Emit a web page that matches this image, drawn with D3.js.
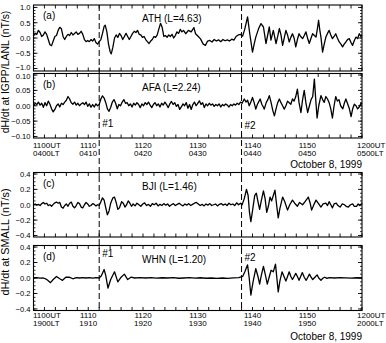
<!DOCTYPE html>
<html>
<head>
<meta charset="utf-8">
<script src="https://cdn.jsdelivr.net/npm/d3@7"></script>
<style>
  body { margin: 0; background: #fff; }
  text { font-family: "Liberation Sans", Arial, sans-serif; fill: #000; }
</style>
</head>
<body>
<svg id="chart" width="386" height="343"></svg>
<script>
// minutes after 1100UT, dH/dt in nT/s
const ath = [
  [0,0.08],[0.3,0.15],[0.6,0.12],[0.9,0.25],[1.2,0.18],[1.5,0.05],[1.8,0.1],[2.1,0.2],[2.4,0.12],[2.7,-0.05],
  [3.0,-0.22],[3.3,-0.25],[3.6,-0.1],[3.9,0.05],[4.2,0.08],[4.5,0.25],[4.8,0.35],[5.1,0.3],[5.4,0.05],[5.7,-0.05],
  [6.0,0.05],[6.3,0.12],[6.6,0.08],[6.9,0.18],[7.2,0.1],[7.5,0.15],[7.8,0.2],[8.1,0.12],[8.4,0.15],[8.7,0.22],
  [9.0,0.12],[9.3,-0.05],[9.6,-0.12],[9.9,-0.08],[10.2,-0.12],[10.5,-0.05],[10.8,-0.1],[11.1,-0.02],[11.4,-0.15],[11.7,-0.2],
  [12.0,-0.12],[12.3,-0.05],[12.6,0.15],[12.9,0.38],[13.1,0.42],[13.4,0.2],[13.7,-0.2],[14.0,-0.45],[14.2,-0.52],[14.5,-0.3],
  [14.8,0.0],[15.1,0.1],[15.4,0.02],[15.7,0.15],[16.0,0.08],[16.3,-0.05],[16.6,0.05],[16.9,0.15],[17.2,0.05],[17.5,-0.05],
  [17.8,0.05],[18.1,0.15],[18.4,0.22],[18.7,0.18],[19.0,0.25],[19.3,0.12],[19.6,0.1],[19.9,0.02],[20.2,0.05],[20.5,-0.05],
  [20.8,-0.12],[21.1,-0.18],[21.4,-0.1],[21.7,-0.05],[22.0,0.05],[22.3,0.02],[22.6,0.1],[22.9,0.3],[23.2,0.48],[23.5,0.35],
  [23.8,0.05],[24.1,0.08],[24.4,0.02],[24.7,0.1],[25.0,0.05],[25.3,0.12],[25.6,0.0],[25.9,0.08],[26.2,0.2],[26.5,0.15],
  [26.8,0.28],[27.1,0.2],[27.4,0.25],[27.8,0.14],[28.3,0.25],[28.8,0.2],[29.3,0.34],[29.6,0.14],[30.1,0.05],[30.5,-0.03],
  [31.0,-0.2],[31.4,-0.24],[31.8,-0.1],[32.2,-0.08],[32.6,-0.13],[33.0,-0.05],[33.4,-0.1],[33.8,-0.06],[34.2,-0.12],[34.6,-0.05],
  [35.0,-0.09],[35.4,-0.06],[35.8,-0.1],[36.2,-0.04],[36.6,-0.07],[37.0,0.05],[37.4,0.1],[37.8,0.12],[38.2,0.06],[38.6,0.3],
  [39.1,0.69],[39.5,0.14],[40.0,-0.46],[40.3,-0.2],[40.6,0.03],[41.1,0.3],[41.55,0.47],[42.0,0.36],[42.46,-0.18],[43.07,0.36],
  [43.37,-0.07],[43.8,0.25],[44.3,-0.18],[44.6,0.05],[44.9,0.31],[45.2,0.1],[45.5,-0.24],[46.1,0.25],[46.4,0.1],[46.7,-0.13],
  [47.0,0.02],[47.3,0.14],[47.6,0.0],[47.9,-0.29],[48.2,-0.05],[48.5,0.14],[48.8,0.05],[49.15,-0.02],[49.45,0.08],[49.76,0.2],
  [50.05,0.0],[50.37,-0.18],[50.7,0.0],[50.98,0.14],[51.3,0.08],[51.6,0.03],[51.85,0.3],[52.07,0.58],[52.3,0.25],[52.5,0.03],
  [52.8,-0.46],[53.1,-0.2],[53.4,0.03],[53.7,0.15],[54.0,0.25],[54.3,0.1],[54.6,-0.02],[54.9,0.05],[55.2,0.14],[55.5,0.0],
  [55.85,-0.13],[56.15,-0.2],[56.45,-0.29],[56.75,-0.2],[57.06,-0.13],[57.35,-0.05],[57.67,-0.02],[58.0,-0.15],[58.28,-0.24],[58.6,-0.08],
  [58.9,0.03],[59.2,-0.02],[59.5,0.14],[59.8,0.05],[60,0.09]
];
const afa = [
  [0,0.0],[0.3,0.008],[0.6,0.004],[0.9,0.012],[1.2,0.002],[1.5,0.008],[1.8,-0.005],[2.1,0.01],[2.4,0.0],[2.7,0.015],
  [3.0,0.005],[3.3,-0.01],[3.6,-0.02],[3.9,-0.012],[4.2,0.0],[4.5,0.006],[4.8,-0.004],[5.1,0.008],[5.4,0.004],[5.7,0.012],
  [6.0,0.018],[6.3,0.03],[6.6,0.022],[6.9,0.01],[7.2,0.005],[7.5,0.012],[7.8,0.002],[8.1,0.008],[8.4,0.0],[8.7,0.006],
  [9.0,0.01],[9.3,0.004],[9.6,0.012],[9.9,-0.002],[10.2,0.006],[10.5,-0.005],[10.8,0.004],[11.1,-0.004],[11.4,0.006],[11.7,0.0],
  [12.0,0.004],[12.3,0.022],[12.6,0.032],[12.9,0.025],[13.2,0.01],[13.5,-0.01],[13.8,-0.018],[14.1,-0.005],[14.4,0.012],[14.7,0.02],
  [15.0,0.008],[15.3,-0.01],[15.6,0.004],[15.9,0.0],[16.2,0.012],[16.5,0.02],[16.8,0.008],[17.1,0.01],[17.4,0.0],[17.7,0.006],
  [18.0,-0.004],[18.3,0.008],[18.6,0.002],[18.9,0.01],[19.2,0.004],[19.5,-0.006],[19.8,0.006],[20.1,0.0],[20.4,0.01],[20.7,0.004],
  [21.0,0.012],[21.3,0.002],[21.6,-0.006],[21.9,0.004],[22.2,0.01],[22.5,0.0],[22.8,0.006],[23.1,-0.004],[23.4,0.008],[23.7,0.002],
  [24.0,0.012],[24.3,0.004],[24.6,-0.006],[24.9,0.006],[25.2,0.014],[25.5,0.004],[25.8,0.01],[26.1,-0.002],[26.4,0.004],[26.7,-0.012],
  [27.0,-0.004],[27.3,0.006],[27.6,0.0],[27.9,0.01],[28.2,-0.008],[28.5,0.004],[28.8,-0.012],[29.1,0.004],[29.4,0.012],[29.7,0.0],
  [30.0,0.008],[30.3,0.016],[30.6,0.004],[30.9,0.01],[31.2,-0.006],[31.5,0.006],[31.8,0.0],[32.1,0.008],[32.4,0.002],[32.7,0.006],
  [33.0,-0.002],[33.3,0.004],[33.6,0.0],[33.9,0.006],[34.2,-0.004],[34.5,0.004],[34.8,0.0],[35.1,0.006],[35.4,0.002],[35.7,-0.004],
  [36.0,0.004],[36.3,0.0],[36.6,0.006],[36.9,0.002],[37.2,0.008],[37.5,0.004],[37.8,0.012],[38.1,0.008],[38.5,0.022],[38.8,0.012],
  [39.1,0.018],[39.4,0.0],[39.7,0.012],[40.0,0.027],[40.3,0.01],[40.6,-0.011],[40.9,0.005],[41.2,0.015],[41.4,0.022],[41.7,0.005],
  [42.0,-0.005],[42.15,-0.011],[42.5,0.01],[42.8,0.02],[43.07,0.033],[43.4,0.01],[43.7,-0.015],[44.0,-0.033],[44.3,-0.01],[44.6,0.01],
  [44.9,0.022],[45.2,0.01],[45.5,0.0],[45.8,-0.011],[46.1,0.0],[46.4,0.015],[46.7,0.01],[47.0,0.005],[47.3,0.022],[47.6,0.015],
  [47.9,0.03],[48.2,0.054],[48.5,0.01],[48.85,-0.022],[49.15,0.02],[49.45,0.05],[49.75,0.01],[50.07,-0.022],[50.4,0.0],[50.7,0.02],
  [51.0,0.03],[51.3,0.087],[51.55,0.02],[51.8,-0.04],[52.1,0.0],[52.5,0.033],[52.8,0.02],[53.1,0.011],[53.4,0.03],[53.7,0.022],
  [54.0,0.01],[54.3,-0.01],[54.6,-0.04],[54.9,0.0],[55.2,0.03],[55.5,0.015],[55.8,0.02],[56.1,0.0],[56.5,-0.01],[56.8,0.01],
  [57.06,0.022],[57.4,0.005],[57.7,-0.01],[58.0,-0.035],[58.3,-0.01],[58.6,0.005],[58.9,0.0],[59.2,-0.01],[59.5,-0.004],[59.8,0.008],
  [60,0.005]
];
const bji = [
  [0,0.0],[0.3,0.01],[0.6,-0.005],[0.9,0.005],[1.2,-0.01],[1.5,0.015],[1.8,0.03],[2.1,0.01],[2.4,0.02],[2.7,-0.01],
  [3.0,0.0],[3.3,-0.02],[3.6,0.005],[3.9,0.025],[4.2,0.035],[4.5,0.02],[4.8,0.03],[5.1,-0.03],[5.4,-0.045],[5.7,-0.01],
  [6.0,0.01],[6.3,-0.02],[6.6,0.02],[6.9,0.035],[7.2,-0.02],[7.5,-0.04],[7.8,-0.01],[8.1,0.03],[8.4,0.015],[8.7,-0.03],
  [9.0,-0.04],[9.3,0.0],[9.6,0.03],[9.9,0.01],[10.2,-0.02],[10.5,-0.01],[10.8,0.015],[11.1,0.005],[11.4,-0.015],[11.7,0.0],
  [12.0,-0.01],[12.3,0.04],[12.6,0.09],[12.9,0.06],[13.2,-0.04],[13.5,-0.13],[13.8,-0.08],[14.1,0.02],[14.5,0.09],[14.8,0.1],
  [15.1,0.03],[15.4,-0.06],[15.7,-0.04],[16.1,0.04],[16.4,0.02],[16.7,-0.03],[17.0,0.0],[17.3,0.05],[17.6,0.02],[17.9,-0.02],
  [18.2,0.01],[18.55,-0.015],[18.9,0.02],[19.25,0.0],[19.6,-0.02],[19.95,0.01],[20.3,0.025],[20.65,-0.01],[21.0,0.005],[21.35,-0.02],
  [21.7,0.015],[22.05,0.0],[22.4,0.02],[22.75,-0.015],[23.1,0.005],[23.45,-0.01],[23.8,0.015],[24.15,-0.005],[24.5,0.01],[24.85,-0.02],
  [25.2,0.0],[25.55,0.015],[25.9,-0.01],[26.25,0.005],[26.6,0.02],[26.95,0.0],[27.3,-0.015],[27.65,0.01],[28.0,-0.005],[28.35,0.015],
  [28.7,-0.01],[29.05,0.005],[29.4,0.02],[29.75,0.03],[30.1,0.01],[30.45,-0.01],[30.8,0.005],[31.15,-0.015],[31.5,0.01],[31.85,-0.005],
  [32.2,0.015],[32.55,-0.01],[32.9,0.0],[33.25,0.01],[33.6,-0.015],[33.95,0.005],[34.3,0.015],[34.65,-0.005],[35.0,0.01],[35.35,-0.01],
  [35.7,0.02],[36.05,0.0],[36.4,0.01],[36.75,-0.01],[37.1,0.025],[37.45,0.0],[37.8,0.02],[38.1,0.0],[38.5,0.08],[38.9,0.2],
  [39.2,0.12],[39.45,-0.1],[39.7,-0.22],[40.0,-0.08],[40.4,0.12],[40.7,0.15],[41.0,0.04],[41.3,-0.06],[41.6,0.05],[42.0,0.18],
  [42.3,0.08],[42.6,-0.1],[42.9,-0.02],[43.2,0.1],[43.5,0.05],[43.8,0.12],[44.1,0.19],[44.4,0.0],[44.7,-0.17],[45.0,-0.05],
  [45.5,0.1],[45.9,0.04],[46.4,-0.07],[46.8,0.0],[47.3,0.06],[47.7,0.02],[48.2,-0.02],[48.6,0.03],[49.15,0.0],[49.6,0.04],
  [50.2,0.1],[50.5,0.03],[50.8,-0.07],[51.2,0.0],[51.6,0.06],[52.0,0.02],[52.5,-0.03],[52.9,0.01],[53.4,0.02],[53.7,-0.01],
  [54.0,0.04],[54.3,0.0],[54.6,-0.04],[54.9,0.01],[55.3,0.02],[55.6,-0.01],[56.0,-0.03],[56.4,0.01],[56.8,0.0],[57.1,-0.02],
  [57.5,-0.03],[57.9,0.0],[58.3,0.01],[58.6,-0.02],[59.0,-0.02],[59.3,0.01],[59.6,-0.01],[60,0.02]
];
const whn = [
  [0,0.0],[0.6,0.004],[1.2,-0.002],[1.8,0.0],[2.2,-0.01],[2.6,-0.03],[3.1,-0.06],[3.6,-0.02],[4.2,0.02],[4.8,-0.01],
  [5.3,-0.03],[5.9,0.01],[6.5,0.012],[7.2,-0.01],[7.8,0.004],[8.4,0.0],[9.0,0.006],[9.6,0.0],[10.2,0.004],[10.8,-0.003],
  [11.4,0.004],[12.0,0.0],[12.4,0.03],[12.9,0.11],[13.2,0.03],[13.6,-0.13],[14.1,-0.02],[14.8,0.08],[15.4,-0.05],[16.0,0.01],
  [16.6,0.05],[17.2,-0.02],[17.8,0.01],[18.5,0.0],[19.5,0.006],[20.5,0.0],[21.5,0.004],[22.5,-0.002],[23.5,0.003],[24.5,0.0],
  [25.5,0.004],[26.5,-0.003],[27.5,0.0],[28.5,0.004],[29.5,-0.002],[30.5,0.003],[31.5,-0.003],[32.5,0.0],[33.5,-0.004],[34.5,0.0],
  [35.5,-0.004],[36.5,0.002],[37.5,0.005],[38.2,0.02],[38.6,0.08],[39.1,0.17],[39.4,0.0],[39.7,-0.22],[40.1,-0.05],[40.6,0.12],
  [41.0,0.02],[41.3,-0.08],[41.6,0.03],[42.0,0.15],[42.35,0.04],[42.7,-0.08],[43.0,0.0],[43.4,0.1],[43.8,0.08],[44.2,0.18],
  [44.45,0.0],[44.7,-0.18],[45.0,-0.04],[45.4,0.08],[45.75,0.02],[46.1,-0.04],[46.4,0.02],[46.7,0.08],[47.0,0.02],[47.3,-0.02],
  [47.6,0.02],[47.9,0.06],[48.2,0.02],[48.5,-0.03],[48.8,0.02],[49.1,0.07],[49.45,0.01],[49.8,-0.03],[50.1,0.01],[50.4,0.05],
  [50.7,0.01],[51.0,-0.02],[51.4,0.01],[51.8,0.04],[52.1,0.0],[52.5,-0.03],[52.9,0.0],[53.2,0.01],[53.6,-0.005],[54.0,0.005],
  [55,0.0],[56,0.004],[57,0.002],[58,-0.002],[59,0.003],[60,0.0]
];

const xTicksMajor = [0, 10, 20, 30, 40, 50, 60];
const utLabels = ["1100UT", "1110", "1120", "1130", "1140", "1150", "1200UT"];
const ltTop = ["0400LT", "0410", "0420", "0430", "0440", "0450", "0500LT"];
const ltBottom = ["1900LT", "1910", "1920", "1930", "1940", "1950", "2000LT"];
const events = [12, 38];

const svg = d3.select("#chart");
const x = d3.scaleLinear().domain([0, 60]).range([33.5, 362]);

const panels = [
  {data: ath, top: 5, bottom: 71, lim: 1.08, major: [-1, -0.5, 0, 0.5, 1], minor: 0.1, fmt: d3.format(".1f"), tag: "(a)", name: "ATH (L=4.63)", nudgeBottom: -1},
  {data: afa, top: 73.5, bottom: 138, lim: 0.105, major: [-0.1, -0.05, 0, 0.05, 0.1], minor: 0.01, fmt: d3.format(".2f"), tag: "(b)", name: "AFA (L=2.24)", nudgeTop: 1},
  {data: bji, top: 172.5, bottom: 237, lim: 0.42, major: [-0.4, -0.2, 0, 0.2, 0.4], minor: 0.05, fmt: d3.format(".1f"), tag: "(c)", name: "BJI (L=1.46)"},
  {data: whn, top: 245.5, bottom: 310.5, lim: 0.42, major: [-0.4, -0.2, 0, 0.2, 0.4], minor: 0.05, fmt: d3.format(".1f"), tag: "(d)", name: "WHN (L=1.20)"}
];

panels.forEach(p => {
  const y = d3.scaleLinear().domain([-p.lim, p.lim]).range([p.bottom, p.top]);
  const g = svg.append("g");
  const x0 = x.range()[0], x1 = x.range()[1];

  // minor y ticks
  const nMin = Math.round(p.major[4] / p.minor);
  const minors = d3.range(-nMin, nMin + 1).map(i => i * p.minor);
  g.selectAll(null).data(minors).enter().append("path")
    .attr("d", d => `M${x0},${y(d)}h2M${x1},${y(d)}h-2`)
    .attr("stroke", "#000").attr("stroke-width", 0.8);
  g.selectAll(null).data(p.major).enter().append("path")
    .attr("d", d => `M${x0},${y(d)}h4M${x1},${y(d)}h-4`)
    .attr("stroke", "#000").attr("stroke-width", 0.9);

  // x ticks top and bottom, every 2 min
  g.selectAll(null).data(d3.range(0, 61, 2)).enter().append("path")
    .attr("d", d => `M${x(d)},${p.bottom}v-3.5M${x(d)},${p.top}v3.5`)
    .attr("stroke", "#000").attr("stroke-width", 0.9);

  g.selectAll(null).data(p.major).enter().append("text")
    .attr("x", x0 - 3)
    .attr("y", (d, i) => y(d) + 2.8 + (i === 0 ? (p.nudgeBottom || 0) : 0) + (i === 4 ? (p.nudgeTop || 0) : 0))
    .attr("text-anchor", "end").attr("font-size", 7.6)
    .text(d => p.fmt(d));

  g.append("path")
    .datum(p.data)
    .attr("fill", "none").attr("stroke", "#000").attr("stroke-width", 1.3)
    .attr("stroke-linejoin", "round")
    .attr("d", d3.line().x(d => x(d[0])).y(d => y(d[1])));

  g.append("rect")
    .attr("x", x0).attr("y", p.top).attr("width", x1 - x0).attr("height", p.bottom - p.top)
    .attr("fill", "none").attr("stroke", "#000").attr("stroke-width", 1.1);

  g.append("text").attr("x", 43).attr("y", p.top + 14).attr("font-size", 10).text(p.tag);
  g.append("text").attr("x", 142).attr("y", p.top + 17).attr("font-size", 10).text(p.name);
});

// event lines
svg.selectAll(null).data(events).enter().append("line")
  .attr("x1", d => x(d)).attr("x2", d => x(d))
  .attr("y1", 5).attr("y2", 310.5)
  .attr("stroke", "#000").attr("stroke-width", 1)
  .attr("stroke-dasharray", "6,3");

const eventLabels = [
  {t: 12, y: 127, s: "#1"}, {t: 38, y: 129, s: "#2"},
  {t: 12, y: 257, s: "#1"}, {t: 38, y: 261, s: "#2"}
];
svg.selectAll(null).data(eventLabels).enter().append("text")
  .attr("x", d => x(d.t) + 3).attr("y", d => d.y)
  .attr("font-size", 10).text(d => d.s);

// time labels
function timeAxis(yUT, lts) {
  xTicksMajor.forEach((t, i) => {
    const first = i === 0, last = i === xTicksMajor.length - 1;
    const xp = first ? x(t) - 0.5 : (last ? x(t) - 5 : x(t));
    const anchor = (first || last) ? "start" : "middle";
    svg.append("text").attr("x", xp).attr("y", yUT).attr("text-anchor", anchor)
      .attr("font-size", 8).text(utLabels[i]);
    svg.append("text").attr("x", xp).attr("y", yUT + 7.8).attr("text-anchor", anchor)
      .attr("font-size", 8).text(lts[i]);
  });
}
timeAxis(148, ltTop);
timeAxis(318, ltBottom);

svg.append("text").attr("x", 362).attr("y", 168).attr("text-anchor", "end")
  .attr("font-size", 10).text("October 8, 1999");
svg.append("text").attr("x", 362).attr("y", 340).attr("text-anchor", "end")
  .attr("font-size", 10).text("October 8, 1999");

svg.append("text").attr("transform", "translate(9,72) rotate(-90)")
  .attr("text-anchor", "middle").attr("font-size", 10.4).text("dH/dt at IGPP/LANL (nT/s)");
svg.append("text").attr("transform", "translate(9,242) rotate(-90)")
  .attr("text-anchor", "middle").attr("font-size", 10.8).text("dH/dt at SMALL (nT/s)");
</script>
</body>
</html>
